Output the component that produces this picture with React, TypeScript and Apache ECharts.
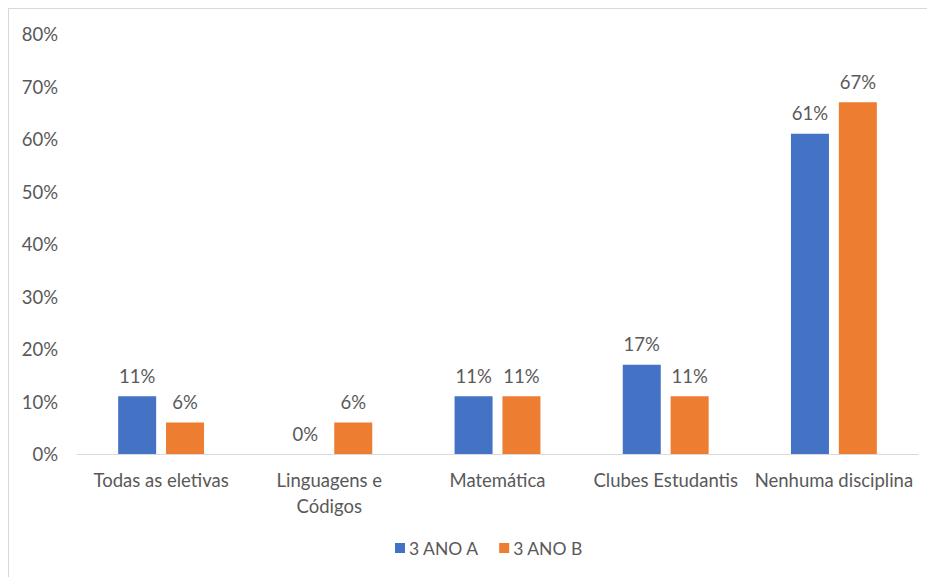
import React, { useEffect, useRef } from "react";
import * as echarts from "echarts";

const categories = ["Todas as eletivas", "Linguagens e\nCódigos", "Matemática", "Clubes Estudantis", "Nenhuma disciplina"];
const seriesNames = ["3 ANO A", "3 ANO B"];
const anoA = [11, 0, 11, 17, 61];
const anoB = [6, 6, 11, 11, 67];
const yTicks = [0, 10, 20, 30, 40, 50, 60, 70, 80];

const FONT = "Lato, 'Open Sans', sans-serif";
const TXT = "#595959";
const FS = 18.5;

export default function App() {
  const ref = useRef<HTMLDivElement>(null);
  useEffect(() => {
    document.body.style.margin = "8px";
    document.body.style.overflow = "hidden";
    const chart = echarts.init(ref.current!, null, { renderer: "svg" });
    const label = {
      show: true,
      position: "top",
      distance: 11,
      color: TXT,
      fontSize: FS,
      fontFamily: FONT,
      formatter: (p: any) => p.value + "%",
    };
    chart.setOption({
      animation: false,
      textStyle: { fontFamily: FONT },
      grid: { left: 68, right: 17, top: 25, bottom: 123, containLabel: false },
      legend: {
        data: seriesNames,
        bottom: 15,
        left: 381,
        itemWidth: 10,
        itemHeight: 10,
        itemGap: 20,
        icon: "rect",
        textStyle: { color: TXT, fontSize: 17.5, fontFamily: FONT, padding: [0, 0, 0, -1] },
      },
      xAxis: {
        type: "category",
        data: categories,
        axisLine: { lineStyle: { color: "#d9d9d9" } },
        axisTick: { show: false },
        axisLabel: { color: TXT, fontSize: FS, fontFamily: FONT, margin: 13, lineHeight: 26, interval: 0 },
      },
      yAxis: {
        type: "value",
        min: yTicks[0],
        max: yTicks[yTicks.length - 1],
        interval: 10,
        splitLine: { show: false },
        axisLine: { show: false },
        axisTick: { show: false },
        axisLabel: { color: TXT, fontSize: FS, fontFamily: FONT, margin: 19, formatter: (v: number) => v + "%" },
      },
      series: [
        { name: seriesNames[0], type: "bar", data: anoA, barWidth: 38, barGap: "26%", itemStyle: { color: "#4472C4" }, label },
        { name: seriesNames[1], type: "bar", data: anoB, barWidth: 38, itemStyle: { color: "#ED7D31" }, label },
      ],
    });
    return () => chart.dispose();
  }, []);
  return (
    <div
      ref={ref}
      style={{
        width: 926,
        height: 568,
        borderLeft: "1px solid #d9d9d9",
        borderTop: "1px solid #d9d9d9",
        background: "#fff",
      }}
    />
  );
}
